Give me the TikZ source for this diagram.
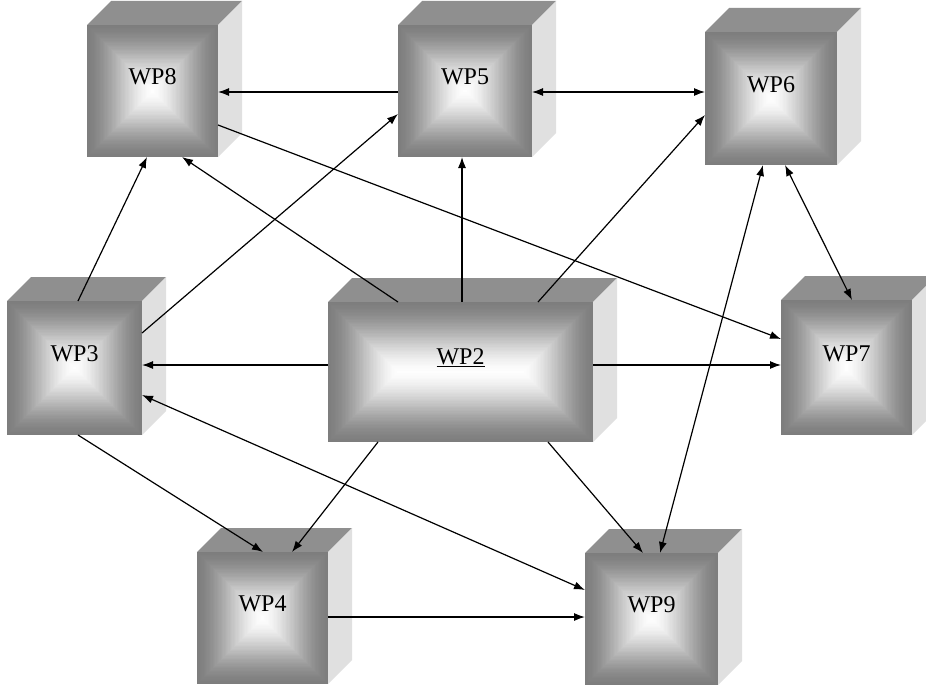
\documentclass[tikz,border=0pt]{standalone}
\usepackage{fontspec}
\setmainfont{Liberation Serif}
\usetikzlibrary{arrows.meta,calc,fit}
\tikzset{
  topface/.style={fill=black!44},
  sideface/.style={fill=black!12},
  frontbox/.style={inner sep=0pt, outer sep=0pt, draw=none, rectangle},
  wplabel/.style={font=\fontsize{24}{26}\selectfont, inner sep=0pt, text=black},
  arr/.style={-{Latex[length=11pt,width=8pt]}, line width=1.2pt, draw=black},
  darr/.style={{Latex[length=11pt,width=8pt]}-{Latex[length=11pt,width=8pt]}, line width=1.2pt, draw=black},
}
\newcommand\wpcube[6]{%
  \fill[topface] (#2,#3) -- (#4,#3) -- ++(24,-24) -- ($(#2,#3)+(24,-24)$) -- cycle;
  \fill[sideface] (#4,#3) -- ++(24,-24) -- ($(#4,#5)+(24,-24)$) -- (#4,#5) -- cycle;
  \pgfmathsetmacro\cuR{min(#4-#2,#5-#3)/2}
  \foreach \cuI in {0,...,49}{%
    \pgfmathsetmacro\cuD{\cuI*\cuR/50}
    \pgfmathsetmacro\cuT{\cuI/50}
    \pgfmathsetmacro\cuU{min(max((\cuT-0.05)/0.9,0),1)}
    \pgfmathsetmacro\cuC{51*(1-0.5*\cuU*\cuU*(3-2*\cuU)-0.5*\cuT)}
    \fill[black!\cuC] ({#2+\cuD},{#3+\cuD}) rectangle ({#4-\cuD},{#5-\cuD});
  }
  \node[frontbox, fit={(#2,#3) (#4,#5)}] (#1) {};
  \node[wplabel] (#1-lbl) at ($(#1.center)+(0,-14)$) {#6};
}
\begin{document}
\begin{tikzpicture}[x=1pt,y=-1pt]
\useasboundingbox (0,0) rectangle (926,685);
\fill[white] (0,0) rectangle (926,685);
\clip (0,0) rectangle (926,685);
% cubes
\wpcube{wp8}{87}{25}{218}{157}{WP8}
\wpcube{wp5}{398}{25}{532}{157}{WP5}
\wpcube{wp6}{705}{32}{837}{165}{WP6}
\wpcube{wp3}{7}{301}{142}{435}{WP3}
\wpcube{wp2}{328}{302}{593}{442}{\underline{WP2}}
\wpcube{wp7}{781}{300}{912}{435}{WP7}
\wpcube{wp4}{197}{552}{328}{684}{WP4}
\wpcube{wp9}{585}{553}{718}{685}{WP9}
% connectors
\draw[arr] (wp5.west |- 0,92) -- (wp8.east |- 0,92);
\draw[darr] (wp5.east |- 0,92) -- (wp6.west |- 0,92);
\draw[arr] (wp8.east |- 0,125) -- (wp7.west |- 0,339);
\draw[arr] (wp2.east |- 0,365) -- (wp7.west |- 0,365);
\draw[arr] (wp3.north -| 78,0) -- (wp8.south -| 147,0);
\draw[arr] (wp2.north -| 398,0) -- (wp8.south -| 182,0);
\draw[arr] (wp3.east |- 0,333) -- (wp5.west |- 0,114);
\draw[arr] (wp2.north -| 462,0) -- (wp5.south -| 462,0);
\draw[arr] (wp2.north -| 538,0) -- (wp6.west |- 0,115);
\draw[darr] (wp6.south -| 785,0) -- (wp7.north -| 852,0);
\draw[darr] (wp6.south -| 763,0) -- (wp9.north -| 660,0);
\draw[darr] (wp3.east |- 0,395) -- (wp9.west |- 0,590);
\draw[arr] (wp2.west |- 0,365) -- (wp3.east |- 0,365);
\draw[arr] (wp3.south -| 78,0) -- (wp4.north -| 263,0);
\draw[arr] (wp2.south -| 378,0) -- (wp4.north -| 292,0);
\draw[arr] (wp2.south -| 548,0) -- (wp9.north -| 643,0);
\draw[arr] (wp4.east |- 0,617) -- (wp9.west |- 0,617);
\end{tikzpicture}
\end{document}
